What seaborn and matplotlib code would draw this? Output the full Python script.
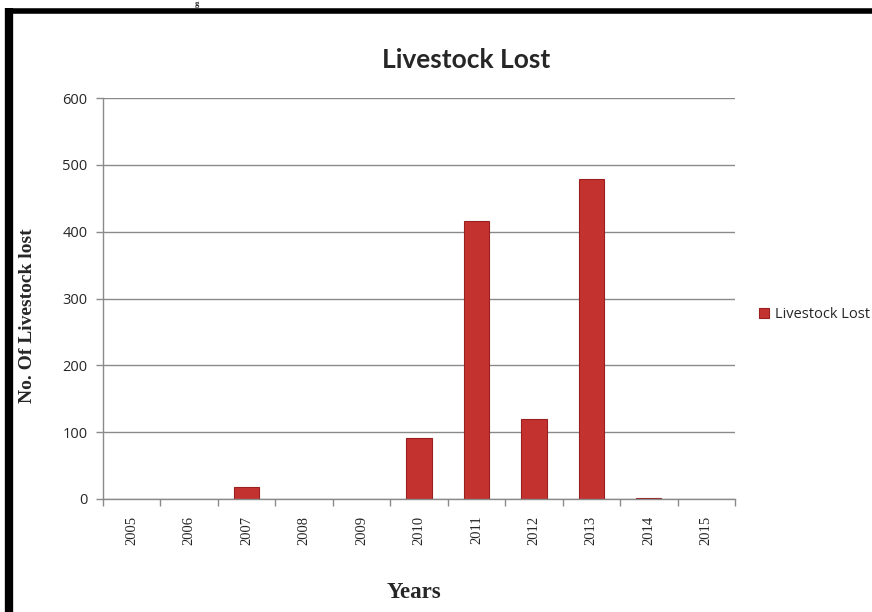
import matplotlib
matplotlib.use("Agg")
import matplotlib.pyplot as plt
import seaborn as sns
import pandas as pd
from matplotlib.lines import Line2D

years = ["2005", "2006", "2007", "2008", "2009", "2010", "2011", "2012", "2013", "2014", "2015"]
livestock_lost = [0, 0, 18, 0, 0, 91, 416, 120, 479, 2, 0]
y_ticks = [0, 100, 200, 300, 400, 500, 600]

df = pd.DataFrame({"Year": years, "Livestock Lost": livestock_lost})

sns.set_theme(style="white")
plt.rcParams["font.family"] = ["DejaVu Sans"]

fig = plt.figure(figsize=(8.72, 6.12), dpi=100)
ax = fig.add_axes([103/872, 1-499/612, (735-103)/872, (499-98)/612])

sns.barplot(data=df, x="Year", y="Livestock Lost", color="#C43230", width=0.44,
            edgecolor="#9A2020", linewidth=0.8, saturation=1, ax=ax,
            label="Livestock Lost")

ax.legend(loc="center left", bbox_to_anchor=(759/872, 1-315/612),
          bbox_transform=fig.transFigure, frameon=False, handlelength=0.7,
          handleheight=0.7, handletextpad=0.4, borderpad=0, borderaxespad=0,
          prop={"family": "Open Sans", "size": 10.5})

for p in ax.patches:
    if p.get_height() == 0:
        p.set_linewidth(0)

ax.set_ylim(0, 600)
ax.set_xlim(-0.5, len(years) - 0.5)
ax.set_yticks(y_ticks)
ax.set_yticklabels([str(v) for v in y_ticks], fontfamily="Open Sans", fontsize=10.5)
ax.yaxis.grid(True, color="#8a8a8a", linewidth=1)
ax.set_axisbelow(True)
for s in ["top", "right"]:
    ax.spines[s].set_visible(False)
for s in ["left", "bottom"]:
    ax.spines[s].set_color("#8a8a8a")
    ax.spines[s].set_linewidth(1)

ax.set_xticks(range(len(years)))
ax.set_xticklabels(years, rotation=90, fontfamily="Liberation Serif", fontsize=10.5)
ax.tick_params(axis="x", which="major", length=0, pad=12)
ax.set_xticks([i - 0.5 for i in range(len(years) + 1)], minor=True)
ax.tick_params(axis="x", which="minor", bottom=True, length=5, color="#8a8a8a",
               width=1, direction="out")
ax.tick_params(axis="y", length=5, color="#8a8a8a", width=1, direction="out", left=True, pad=6)
ax.set_xlabel("")
ax.set_ylabel("")

fig.text(466/872, 1-60/612, "Livestock Lost", ha="center", va="center",
         fontfamily="Lato", fontweight="bold", fontsize=19)
fig.text(414/872, 1-592/612, "Years", ha="center", va="center",
         fontfamily="Liberation Serif", fontweight="bold", fontsize=16.5)
fig.text(28/872, 1-316/612, "No. Of Livestock lost", ha="center", va="center",
         rotation=90, fontfamily="Liberation Serif", fontweight="bold", fontsize=14)

# black frame lines (left and top)
fig.add_artist(Line2D([9/872, 9/872], [0, 1-8/612], color="black", linewidth=6,
                      transform=fig.transFigure, solid_capstyle="butt"))
fig.add_artist(Line2D([6/872, 1], [1-10.5/612, 1-10.5/612], color="black", linewidth=4,
                      transform=fig.transFigure, solid_capstyle="butt"))
fig.text(197/872, 1-0.5/612, "g", ha="center", va="top",
         fontfamily="Liberation Serif", fontweight="bold", fontsize=6)

fig.savefig("out.png", dpi=100)
